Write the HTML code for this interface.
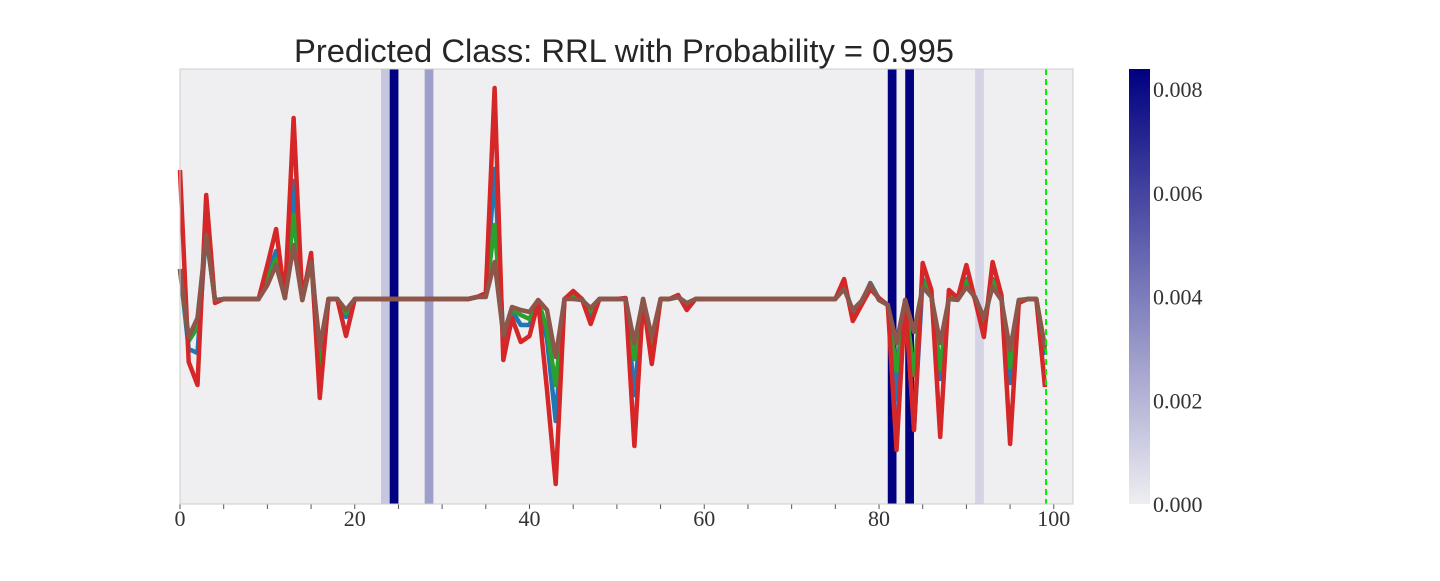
<!DOCTYPE html>
<html><head><meta charset="utf-8"><style>
body{margin:0;background:#fff;width:1440px;height:576px;overflow:hidden}
svg text{font-family:"Liberation Serif",serif}
</style></head><body>
<svg id="chart" width="1440" height="576" xmlns="http://www.w3.org/2000/svg">
<defs><linearGradient id="cbg" x1="0" y1="1" x2="0" y2="0"><stop offset="0" stop-color="#eeeef2"/><stop offset="1" stop-color="#000080"/></linearGradient></defs>
<text x="624" y="62" text-anchor="middle" style="font-family:'Liberation Sans',sans-serif;font-size:32px;fill:#262626" textLength="660" lengthAdjust="spacingAndGlyphs">Predicted Class: RRL with Probability = 0.995</text>
<rect x="180" y="69" width="893" height="435" fill="#efeff2"/>
<g id="heat"></g><g id="lines"></g><g id="xaxis"></g>
<line x1="1046" y1="69" x2="1046" y2="504" stroke="#00ee00" stroke-width="2" stroke-dasharray="6,4"/>
<rect x="180" y="69" width="893" height="435" fill="none" stroke="#cccccc" stroke-width="1"/>
<rect x="1129" y="69" width="21" height="435" fill="url(#cbg)"/>
<g id="cbticks"></g>
</svg>
<script>
const categories=[0,1,2,3,4,5,6,7,8,9,10,11,12,13,14,15,16,17,18,19,20,21,22,23,24,25,26,27,28,29,30,31,32,33,34,35,36,37,38,39,40,41,42,43,44,45,46,47,48,49,50,51,52,53,54,55,56,57,58,59,60,61,62,63,64,65,66,67,68,69,70,71,72,73,74,75,76,77,78,79,80,81,82,83,84,85,86,87,88,89,90,91,92,93,94,95,96,97,98,99];
const seriesBlue=[1.5,-2.5,-2.7,3.5,-0.1,0,0,0,0,0,1.2,2.4,0.05,5.9,-0.05,2.2,-3.0,0,0,-0.9,0,0,0,0,0,0,0,0,0,0,0,0,0,0,0.1,0.2,6.5,-2.0,-0.6,-1.3,-1.3,-0.1,-2.0,-6.1,0,0.2,0,-0.8,0,0,0,0,-4.8,0,-2.5,0,0,0.1,-0.3,0,0,0,0,0,0,0,0,0,0,0,0,0,0,0,0,0,0.7,-0.7,-0.2,0.8,0,-0.3,-5.0,-0.05,-6.5,1.0,0.2,-4.0,0.2,0,1.0,0,-1.4,1.0,0.1,-4.2,-0.1,0,0,-2.8];
const seriesGreen=[1.5,-2.1,-1.4,3.3,-0.1,0,0,0,0,0,1.0,2.0,0.05,4.2,-0.05,2.0,-3.9,0,0,-0.7,0,0,0,0,0,0,0,0,0,0,0,0,0,0,0.1,0.2,3.7,-1.8,-0.5,-0.8,-1.0,-0.1,-1.5,-4.3,0,0.2,0,-0.6,0,0,0,0,-3.0,0,-2.2,0,0,0.1,-0.3,0,0,0,0,0,0,0,0,0,0,0,0,0,0,0,0,0,0.6,-0.6,-0.2,0.7,0,-0.3,-3.6,-0.05,-3.8,0.9,0.2,-3.5,0.1,0,0.9,0,-1.2,0.9,0,-3.4,-0.1,0,0,-2.6];
const seriesRed=[6.45,-3.15,-4.3,5.2,-0.2,0,0,0,0,0,1.7,3.5,0.05,9.05,-0.05,2.3,-4.95,0,0,-1.85,0,0,0,0,0,0,0,0,0,0,0,0,0,0,0.1,0.3,10.55,-3.05,-0.95,-2.15,-1.85,-0.15,-4.55,-9.25,0,0.4,0,-1.25,0,0,0,0.05,-7.35,-0.05,-3.25,0,0,0.2,-0.55,0,0,0,0,0,0,0,0,0,0,0,0,0,0,0,0,0,1.0,-1.1,-0.3,0.5,0.05,-0.3,-7.55,-0.05,-6.55,1.8,0.45,-6.9,0.45,0.05,1.7,-0.05,-1.9,1.85,0.2,-7.25,-0.2,0,0,-4.4];
const seriesBrown=[1.45,-1.9,-0.95,3.2,-0.05,0,0,0,0,0,0.7,1.7,0.05,2.7,-0.05,1.85,-2.4,0,0,-0.55,0,0,0,0,0,0,0,0,0,0,0,0,0,0,0.1,0.1,1.85,-1.8,-0.4,-0.55,-0.65,-0.05,-0.55,-2.9,0,0,-0.05,-0.45,0,0,0,0,-2.2,0,-1.9,0,0,0.1,-0.2,0,0,0,0,0,0,0,0,0,0,0,0,0,0,0,0,0,0.5,-0.55,-0.1,0.75,-0.05,-0.3,-2.2,-0.05,-1.65,0.6,0.1,-2.2,0,-0.05,0.6,0.1,-0.95,0.6,-0.05,-2.55,-0.05,0,0,-2.4];
const heatIndex=[23,24,28,81,83,91];
const heatValues=[0.0014,0.0084,0.0028,0.0084,0.0084,0.0009];
const xTicks=[0,20,40,60,80,100];
const cbTicks=["0.000","0.002","0.004","0.006","0.008"];
const cbTickValues=[0,0.002,0.004,0.006,0.008];
const NS="http://www.w3.org/2000/svg";
const X0=180,XW=893,XMAX=102.2,Y0=69,YH=435,YMAX=11.5,YMIN=-10.25,CMAX=0.00839;
function xs(v){return X0+v/XMAX*XW;}
function ys(v){return Y0+(YMAX-v)/(YMAX-YMIN)*YH;}
function cbY(v){return 504-v/CMAX*435;}
function mk(t,a,p){const e=document.createElementNS(NS,t);for(const k in a)e.setAttribute(k,a[k]);p.appendChild(e);return e;}
function col(v){const t=Math.min(1,v/CMAX);const a=[238,238,242],b=[0,0,128];return "rgb("+a.map((c,i)=>Math.round(c+(b[i]-c)*t)).join(",")+")";}
const heat=document.getElementById('heat');
heatIndex.forEach((idx,i)=>{
 const r=mk('rect',{x:xs(idx),y:Y0,width:xs(idx+1)-xs(idx),height:YH,fill:col(heatValues[i])},heat);
 
 
});
const lines=document.getElementById('lines');
[[seriesBlue,'#1f77b4','series-blue'],[seriesGreen,'#2ca02c','series-green'],[seriesRed,'#d62728','series-red'],[seriesBrown,'#8c564b','series-brown']].forEach(s=>{
 const d=s[0].map((v,i)=>(i?'L':'M')+xs(categories[i]).toFixed(1)+','+ys(v).toFixed(1)).join('');
 const p=mk('path',{d:d,fill:'none',stroke:s[1],'stroke-width':4.5,'stroke-linejoin':'round'},lines);
 
 
});
const xa=document.getElementById('xaxis');
for(let t=0;t<=100;t+=5){
 const l=mk('line',{x1:xs(t),x2:xs(t),y1:504,y2:509,stroke:'#555','stroke-width':1},xa);
 
 
}
xTicks.forEach(t=>{
 const tx=mk('text',{x:xs(t),y:526,'text-anchor':'middle','font-size':'22','fill':'#333'},xa);
 tx.textContent=t;
 
 
});
const cb=document.getElementById('cbticks');
cbTickValues.forEach((v,i)=>{
 const tx=mk('text',{x:1153,y:cbY(v)+8,'font-size':'22','fill':'#333'},cb);
 tx.textContent=cbTicks[i];
 
 
});
</script>
</body></html>
